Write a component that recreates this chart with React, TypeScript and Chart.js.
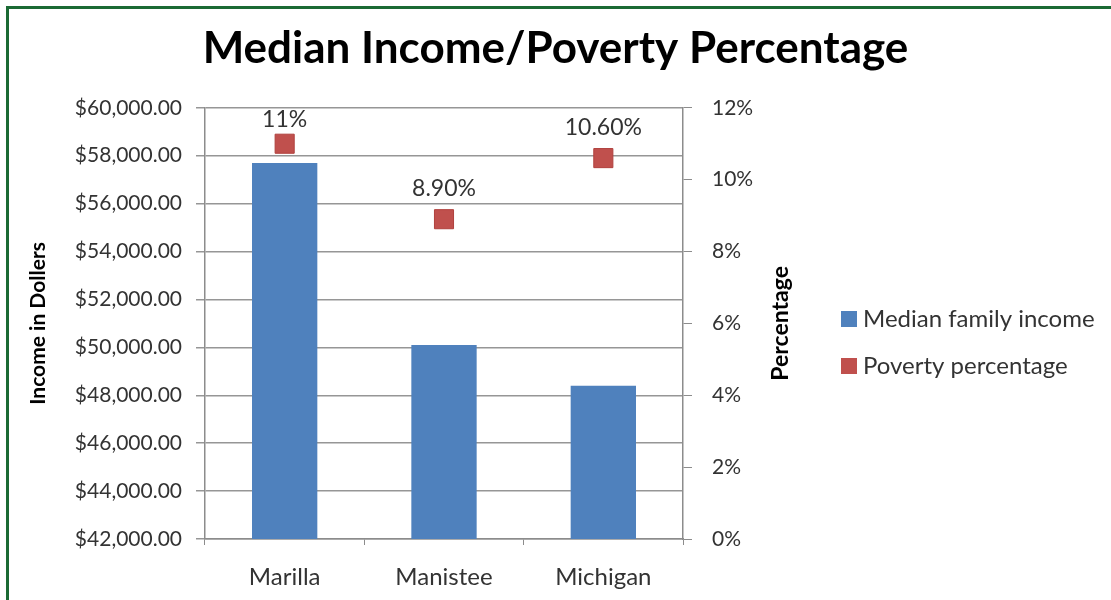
import React, { useEffect, useRef } from 'react';
import { Chart, registerables } from 'chart.js';

Chart.register(...registerables);

const chartTitle = 'Median Income/Poverty Percentage';
const categories = ['Marilla', 'Manistee', 'Michigan'];
const medianIncome = [57700, 50100, 48400];
const povertyPercent = [11, 8.9, 10.6];
const povertyLabels = ['11%', '8.90%', '10.60%'];
const seriesNames = ['Median family income', 'Poverty percentage'];
const seriesColors = ['#4f81bd', '#c0504d'];
const incomeTickLabels = [
  '$42,000.00', '$44,000.00', '$46,000.00', '$48,000.00', '$50,000.00',
  '$52,000.00', '$54,000.00', '$56,000.00', '$58,000.00', '$60,000.00',
];
const percentTickLabels = ['0%', '2%', '4%', '6%', '8%', '10%', '12%'];
const leftAxisTitle = 'Income in Dollers';
const rightAxisTitle = 'Percentage';

const FONT = 'Lato';

const decorPlugin = {
  id: 'decor',
  beforeDraw(chart: any) {
    const { ctx, width, height } = chart;
    ctx.save();
    ctx.fillStyle = '#ffffff';
    ctx.fillRect(0, 0, width, height);
    ctx.fillStyle = '#1b6a34';
    ctx.fillRect(6, 6, width - 6, 3);
    ctx.fillRect(6, 6, 3, height - 6);
    ctx.restore();
  },
  afterDraw(chart: any) {
    const { ctx, chartArea } = chart;
    ctx.save();
    // data labels
    const meta = chart.getDatasetMeta(1);
    ctx.font = `23px ${FONT}`;
    ctx.fillStyle = '#333333';
    ctx.textAlign = 'center';
    ctx.textBaseline = 'middle';
    meta.data.forEach((pt: any, i: number) => {
      const y = Math.max(pt.y - 31, chartArea.top + 12);
      ctx.fillText(povertyLabels[i], pt.x, y);
    });
    // right axis title
    ctx.save();
    ctx.translate(chartArea.right + 98, (chartArea.top + chartArea.bottom) / 2);
    ctx.rotate(-Math.PI / 2);
    ctx.font = `bold 23px ${FONT}`;
    ctx.fillStyle = '#000000';
    ctx.textAlign = 'center';
    ctx.textBaseline = 'middle';
    ctx.fillText(rightAxisTitle, 0, 0);
    ctx.restore();
    // legend
    const lx = chartArea.right + 158;
    const ly = [319, 366];
    ctx.font = `24px ${FONT}`;
    ctx.textAlign = 'left';
    ctx.textBaseline = 'middle';
    seriesNames.forEach((name, i) => {
      ctx.fillStyle = seriesColors[i];
      ctx.fillRect(lx, ly[i] - 8, 16, 16);
      ctx.fillStyle = '#333333';
      ctx.fillText(name, lx + 22, ly[i]);
    });
    ctx.restore();
  },
};

export default function App() {
  const ref = useRef<HTMLCanvasElement | null>(null);
  useEffect(() => {
    if (!ref.current) return;
    const chart = new Chart(ref.current, {
      type: 'bar',
      data: {
        labels: categories,
        datasets: [
          {
            type: 'bar',
            label: seriesNames[0],
            data: medianIncome,
            backgroundColor: seriesColors[0],
            borderWidth: 0,
            yAxisID: 'y',
            categoryPercentage: 1,
            barPercentage: 0.41,
            order: 2,
          },
          {
            type: 'line',
            label: seriesNames[1],
            data: povertyPercent,
            showLine: false,
            pointStyle: 'rect',
            pointRadius: 13.5,
            pointBackgroundColor: seriesColors[1],
            pointBorderColor: '#b0403d',
            pointBorderWidth: 1,
            yAxisID: 'y1',
            order: 1,
          } as any,
        ],
      },
      options: {
        responsive: false,
        animation: false,
        devicePixelRatio: 1,
        layout: { padding: 0 },
        plugins: {
          legend: { display: false },
          tooltip: { enabled: false },
          title: {
            display: true,
            text: chartTitle,
            color: '#000000',
            font: { family: FONT, size: 44, weight: 'bold' },
            padding: { top: 22, bottom: 33 },
          },
        },
        scales: {
          x: {
            offset: true,
            grid: { display: true, drawOnChartArea: false, color: '#8c8c8c', tickLength: 6 },
            border: { color: '#8c8c8c', width: 1.5 },
            ticks: { color: '#333333', font: { family: FONT, size: 24 }, padding: 18 },
            afterFit: (s: any) => { s.height = 61; },
          },
          y: {
            position: 'left',
            min: 42000,
            max: 60000,
            ticks: {
              stepSize: 2000,
              color: '#333333',
              font: { family: FONT, size: 21 },
              padding: 14,
              callback: (_v: any, i: number) => incomeTickLabels[i],
            },
            grid: { color: '#969696', lineWidth: 1.5, tickLength: 9 },
            border: { color: '#8c8c8c', width: 1.5 },
            title: {
              display: true,
              text: leftAxisTitle,
              color: '#000000',
              font: { family: FONT, size: 21, weight: 'bold' },
              padding: { top: 26, bottom: 0 },
            },
            afterFit: (s: any) => { s.width = 205; },
          },
          y1: {
            position: 'right',
            min: 0,
            max: 12,
            ticks: {
              stepSize: 2,
              color: '#333333',
              font: { family: FONT, size: 21 },
              padding: 20,
              callback: (_v: any, i: number) => percentTickLabels[i],
            },
            grid: { drawOnChartArea: false, color: '#8c8c8c', tickLength: 9 },
            border: { color: '#8c8c8c', width: 1.5 },
            afterFit: (s: any) => { s.width = 428; },
          },
        },
      },
      plugins: [decorPlugin],
    });
    return () => chart.destroy();
  }, []);
  return (
    <div style={{ position: 'fixed', left: 0, top: 0, width: 1111, height: 600, background: '#fff' }}>
      <canvas ref={ref} width={1111} height={600} style={{ display: 'block', width: 1111, height: 600 }} />
    </div>
  );
}
